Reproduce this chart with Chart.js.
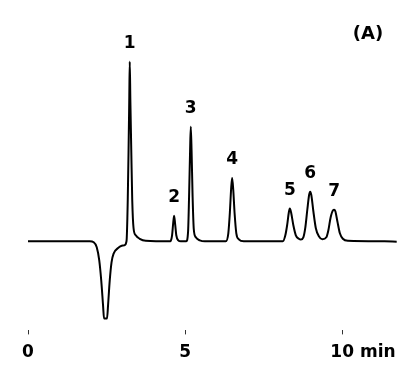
<!DOCTYPE html>
<html>
<head>
<meta charset="utf-8">
<script src="https://cdn.jsdelivr.net/npm/chart.js@4.4.1/dist/chart.umd.min.js"></script>
<style>
html,body{margin:0;padding:0;background:#fff;}
canvas{display:block;}
</style>
</head>
<body>
<canvas id="c" width="416" height="378"></canvas>
<script>
// Retention time (min)
const times = [0,1.965,2.092,2.188,2.268,2.331,2.389,2.420,2.516,2.548,2.602,2.659,2.729,2.857,2.984,3.096,3.127,
  3.143,3.175,3.201,3.223,3.239,3.258,3.287,3.318,3.360,3.430,3.557,3.749,
  4.529,4.586,4.618,4.650,4.684,4.720,4.783,4.863,
  5.038,5.096,5.127,5.159,5.181,5.207,5.239,5.277,5.341,5.468,5.627,
  6.296,6.376,6.424,6.465,6.497,6.532,6.576,6.631,6.710,6.869,
  8.111,8.191,8.248,8.303,8.334,8.373,8.446,8.525,8.621,8.685,
  8.764,8.828,8.892,8.949,8.981,9.019,9.083,9.162,9.258,9.369,
  9.497,9.561,9.634,9.710,9.745,9.783,9.847,9.927,10.022,10.181,11.35,11.736];
// Detector signal (arbitrary units)
const signal = [0,0,-1,-6,-19,-39,-64,-77,-77,-64,-39,-21,-12,-7,-4.5,-3.5,-1,
  3,41,91,141,179.3,141,91,41,13,6,2.5,0.5,
  0,6,17,25.5,17,6,1,0,
  0,10,45,90,114.3,90,45,12,4,1,0,
  0,8,28,52,63.3,52,28,8,2,0,
  0,6,16,29,32.7,29,16,6,2.5,1.8,
  4,14,32,46.5,49.5,46,30,13,5,2,
  4,11,24,31,31.5,30,20,8,2.5,0.5,0,-0.5];

const peakNames = ['1','2','3','4','5','6','7'];
const peakTimes = [3.239,4.650,5.181,6.497,8.334,8.981,9.745];
const peakHeights = [179.3,25.5,114.3,63.3,32.7,49.5,31.5];

const xTicks = [0,5,10];
const xUnit = 'min';
const panelLabel = '(A)';

const FONT = '"DejaVu Sans", sans-serif';

const annot = {
  id: 'annot',
  afterDraw(chart) {
    const ctx = chart.ctx;
    const xs = chart.scales.x, ys = chart.scales.y;
    ctx.save();
    ctx.fillStyle = '#000';
    ctx.textAlign = 'center';
    ctx.textBaseline = 'middle';
    ctx.font = 'bold 17px ' + FONT;
    peakNames.forEach((n, i) => {
      const px = xs.getPixelForValue(peakTimes[i]);
      const py = ys.getPixelForValue(peakHeights[i]);
      ctx.fillText(n, px, py - 18);
    });
    // unit after last tick label
    const last = xTicks[xTicks.length - 1];
    const lx = xs.getPixelForValue(last);
    const w = ctx.measureText(String(last)).width;
    const ly = xs.top + 4 + 8 + 10.2;
    ctx.textAlign = 'left';
    ctx.fillText(xUnit, lx + w / 2 + 6, ly);
    // panel label
    ctx.font = 'bold 18px ' + FONT;
    ctx.textAlign = 'center';
    ctx.fillText(panelLabel, 368, 34);
    ctx.restore();
  }
};

new Chart(document.getElementById('c'), {
  type: 'line',
  data: {
    datasets: [{
      data: times.map((t, i) => ({x: t, y: signal[i]})),
      borderColor: '#000',
      borderWidth: 2,
      pointRadius: 0,
      fill: false,
      cubicInterpolationMode: 'monotone'
    }]
  },
  options: {
    responsive: false,
    animation: false,
    layout: {padding: {left: 28, right: 11, top: 20, bottom: 7.2}},
    plugins: {legend: {display: false}, tooltip: {enabled: false}},
    scales: {
      x: {
        type: 'linear',
        min: 0,
        max: 12,
        afterBuildTicks: (s) => { s.ticks = xTicks.map(v => ({value: v})); },
        border: {display: false},
        grid: {display: true, drawOnChartArea: false, drawTicks: true, tickLength: 4, color: '#333', lineWidth: 1},
        ticks: {color: '#000', padding: 8, maxRotation: 0, font: {family: FONT, size: 17, weight: 'bold'}}
      },
      y: {
        type: 'linear',
        display: false,
        min: -89,
        max: 221
      }
    }
  },
  plugins: [annot]
});
</script>
</body>
</html>
